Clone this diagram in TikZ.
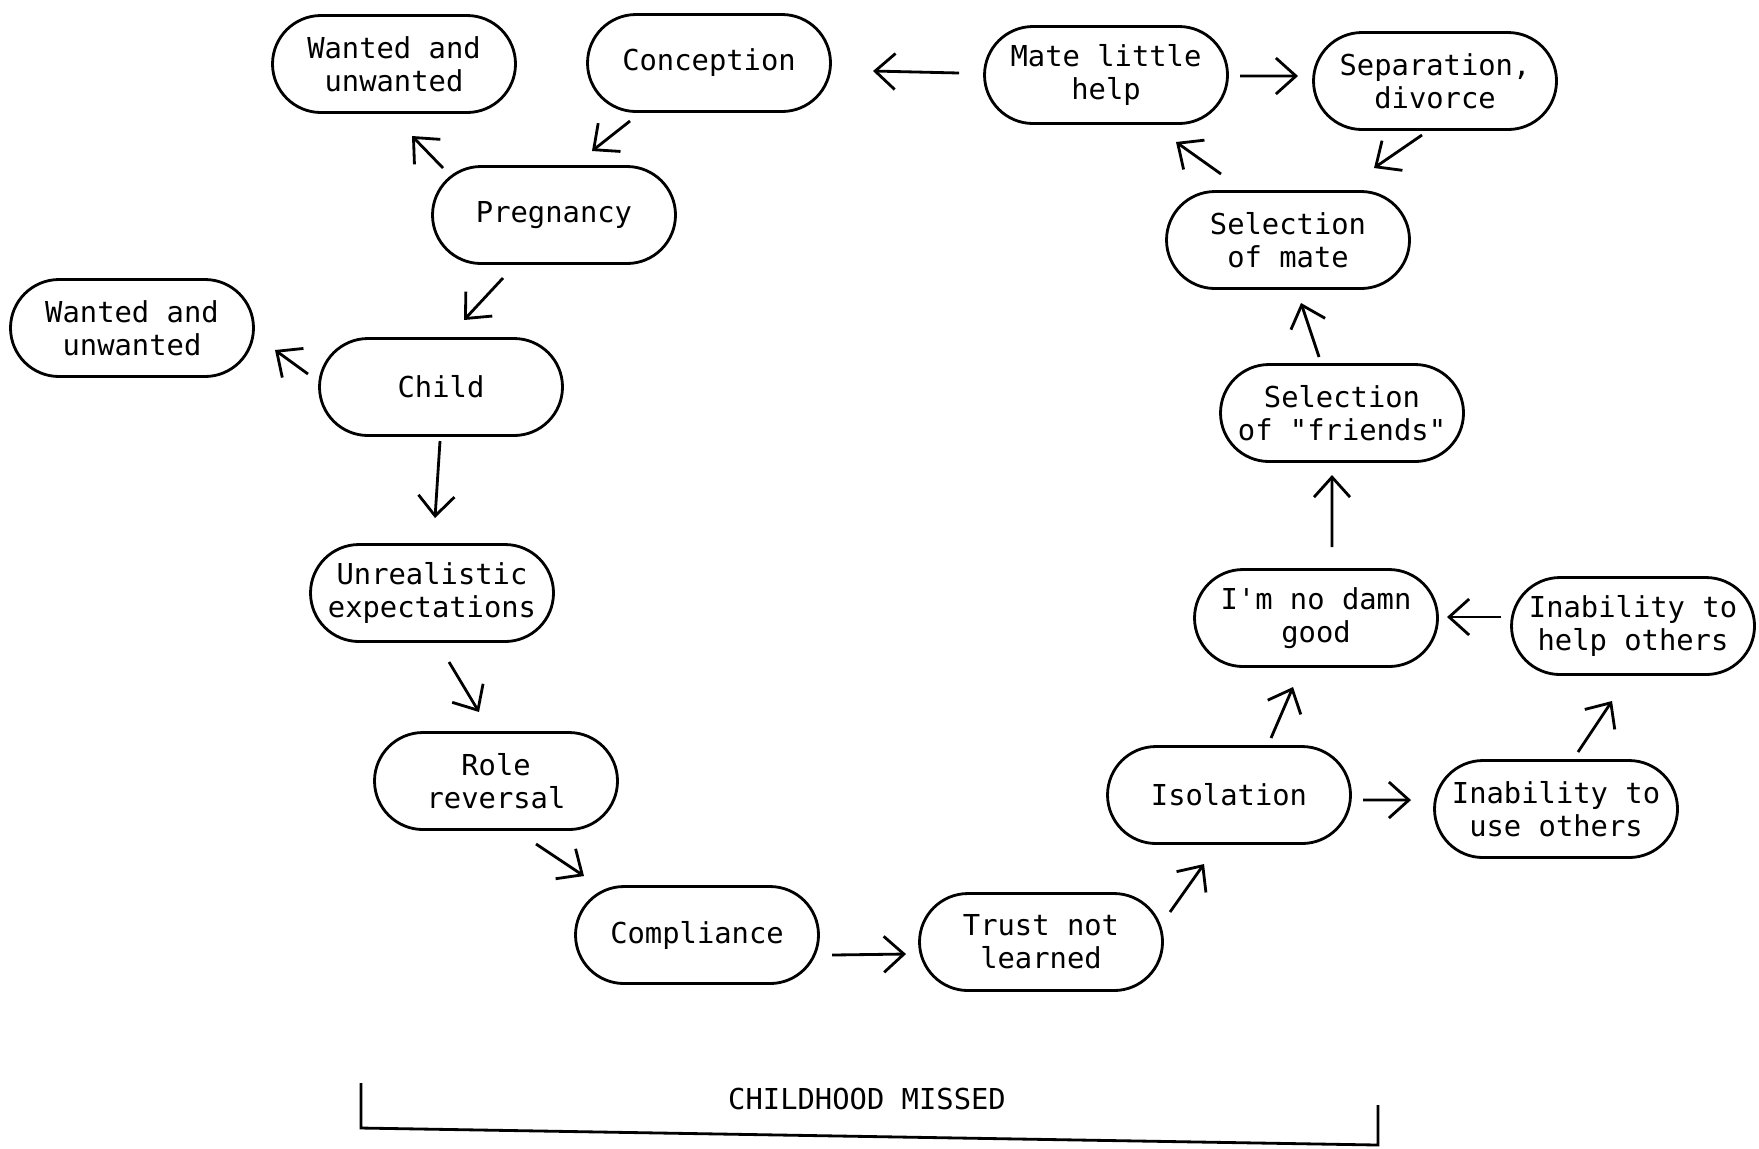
\documentclass[tikz,border=0pt]{standalone}
\usepackage{fontspec}
\usetikzlibrary{shapes.misc,arrows.meta}
\newfontfamily\typewriter{DejaVu Sans Mono}

\begin{document}
\begin{tikzpicture}[x=1cm,y=1cm,
                main/.style = {rounded rectangle, draw, line width=0.8pt, minimum width=2.43cm, minimum height=0.97cm,
                               inner sep=0pt, align=center, font=\typewriter\fontsize{8.2}{9.4}\selectfont},
                arr/.style = {-{Straight Barb[length=2mm,width=3.6mm]}, line width=0.8pt}]
                \useasboundingbox (0,0) rectangle (17.59,-11.48);
                \node[main] (wantedtop) at (3.94,-0.64) {Wanted and\\unwanted};
                \node[main] (conception) at (7.09,-0.63) {Conception};
                \node[main] (mate) at (11.06,-0.75) {Mate little\\help};
                \node[main] (separation) at (14.35,-0.81) {Separation,\\divorce};
                \node[main] (pregnancy) at (5.54,-2.15) {Pregnancy};
                \node[main] (selmate) at (12.88,-2.40) {Selection\\of mate};
                \node[main] (wantedleft) at (1.32,-3.28) {Wanted and\\unwanted};
                \node[main] (child) at (4.41,-3.87) {Child};
                \node[main] (friends) at (13.42,-4.13) {Selection\\of "friends"};
                \node[main] (unreal) at (4.32,-5.93) {Unrealistic\\expectations};
                \node[main] (nogood) at (13.16,-6.18) {I'm no damn\\good};
                \node[main] (inhelp) at (16.33,-6.26) {Inability to\\help others};
                \node[main] (role) at (4.96,-7.81) {Role\\reversal};
                \node[main] (isolation) at (12.29,-7.95) {Isolation};
                \node[main] (inuse) at (15.56,-8.09) {Inability to\\use others};
                \node[main] (compliance) at (6.97,-9.35) {Compliance};
                \node[main] (trust) at (10.41,-9.42) {Trust not\\learned};
                \path[arr]
                    ([shift={(-0.79,-0.58)}]conception.center) edge ([shift={(0.38,0.64)}]pregnancy.center)
                    ([shift={(-1.11,0.47)}]pregnancy.center) edge ([shift={(0.18,-0.72)}]wantedtop.center)
                    ([shift={(-0.51,-0.63)}]pregnancy.center) edge ([shift={(0.23,0.67)}]child.center)
                    ([shift={(-1.33,0.13)}]child.center) edge ([shift={(1.43,-0.22)}]wantedleft.center)
                    ([shift={(-0.01,-0.54)}]child.center) edge ([shift={(0.03,0.75)}]unreal.center)
                    ([shift={(0.17,-0.69)}]unreal.center) edge ([shift={(-0.17,0.69)}]role.center)
                    ([shift={(0.40,-0.63)}]role.center) edge ([shift={(-1.13,0.59)}]compliance.center)
                    ([shift={(1.35,-0.20)}]compliance.center) edge ([shift={(-1.35,-0.12)}]trust.center)
                    ([shift={(1.29,0.30)}]trust.center) edge ([shift={(-0.25,-0.69)}]isolation.center)
                    ([shift={(0.42,0.57)}]isolation.center) edge ([shift={(-0.23,-0.69)}]nogood.center)
                    ([shift={(1.34,-0.05)}]isolation.center) edge ([shift={(-1.45,0.09)}]inuse.center)
                    ([shift={(0.22,0.57)}]inuse.center) edge ([shift={(-0.21,-0.75)}]inhelp.center)
                    ([shift={(-1.32,0.09)}]inhelp.center) edge ([shift={(1.31,0.01)}]nogood.center)
                    ([shift={(0.16,0.71)}]nogood.center) edge ([shift={(-0.10,-0.62)}]friends.center)
                    ([shift={(-0.23,0.56)}]friends.center) edge ([shift={(0.13,-0.63)}]selmate.center)
                    ([shift={(-0.67,0.66)}]selmate.center) edge ([shift={(0.70,-0.67)}]mate.center)
                    ([shift={(-0.13,-0.54)}]separation.center) edge ([shift={(0.86,0.72)}]selmate.center)
                    ([shift={(1.34,-0.01)}]mate.center) edge ([shift={(-1.37,0.05)}]separation.center)
                    ([shift={(-1.47,0.02)}]mate.center) edge ([shift={(1.64,-0.08)}]conception.center);
                \node[font=\typewriter\fontsize{8.2}{9.4}\selectfont] (missed) at (8.67,-10.99) {CHILDHOOD MISSED};
                \draw[line width=0.8pt] (3.61,-10.83) -- (3.61,-11.28) -- (13.78,-11.45) -- (13.78,-11.05);
            \end{tikzpicture}
\end{document}
